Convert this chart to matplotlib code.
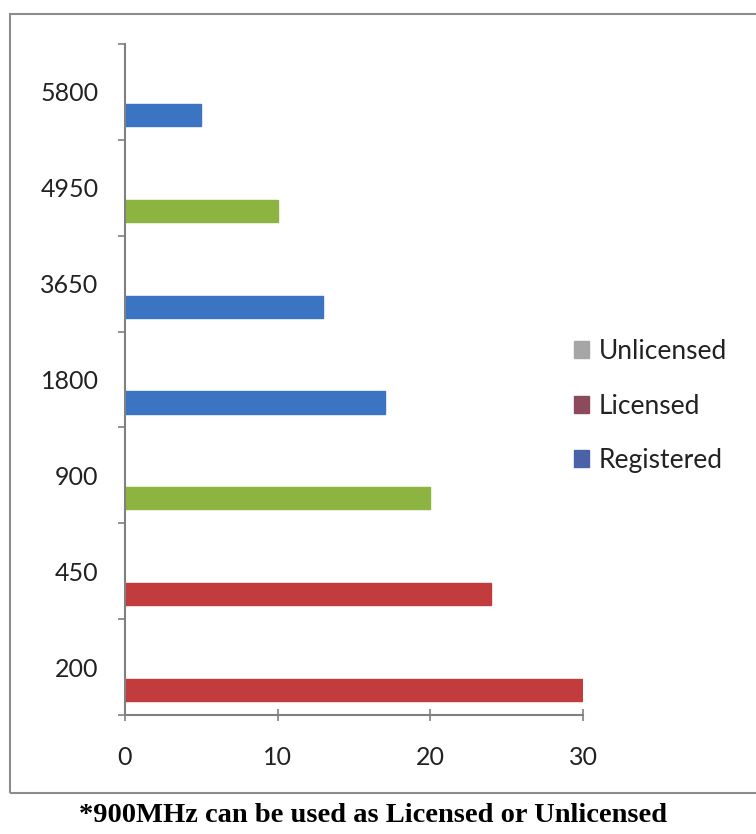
import matplotlib
matplotlib.use("Agg")
import matplotlib.pyplot as plt
from matplotlib.patches import Rectangle, Patch

# frequency bands (MHz), bottom to top
bands = ["200", "450", "900", "1800", "3650", "4950", "5800"]
values = [30, 24, 20, 17, 13, 10, 5]
kinds = ["Licensed", "Licensed", "Unlicensed", "Registered", "Registered", "Unlicensed", "Registered"]
xticks = [0, 10, 20, 30]

bar_colors = {"Licensed": "#C23B3D", "Unlicensed": "#8DB440", "Registered": "#3B74C2"}
legend_names = ["Unlicensed", "Licensed", "Registered"]
legend_colors = ["#A6A6A6", "#8C4A5C", "#4A63A8"]

plt.rcParams['font.family'] = ['Lato', 'DejaVu Sans']

fig = plt.figure(figsize=(7.56, 8.34), dpi=100)
ax = fig.add_axes([125/756, 1-715/834, (583-125)/756, (715-44)/834])

pos = list(range(len(bands)))
for i in pos:
    c = bar_colors[kinds[i]]
    ax.barh(i - 0.24, values[i], height=0.23, color=c, edgecolor=c, linewidth=1)

ax.set_xlim(0, 30)
ax.set_ylim(-0.5, len(bands) - 0.5)
ax.set_xticks(xticks)
ax.set_yticks(pos)
ax.set_yticklabels(bands)
ax.set_yticks([p + 0.5 for p in pos[:-1]] + [-0.5, len(bands) - 0.5], minor=True)
ax.tick_params(axis='y', which='major', length=0, pad=19, labelsize=18, colors='#222222')
ax.tick_params(axis='y', which='minor', length=5, width=1.2, direction='out', color='#808080')
ax.tick_params(axis='x', length=8, width=1.2, direction='inout', color='#808080', pad=18,
               labelsize=18, labelcolor='#222222')
for s in ['top', 'right']:
    ax.spines[s].set_visible(False)
for s in ['left', 'bottom']:
    ax.spines[s].set_color('#808080')
    ax.spines[s].set_linewidth(1.5)

handles = [Patch(facecolor=c, edgecolor=c) for c in legend_colors]
fig.legend(handles, legend_names, loc='upper left', bbox_to_anchor=(574/756, 1-339/834),
           frameon=False, fontsize=19, handlelength=0.55, handleheight=0.6,
           handletextpad=0.4, labelspacing=1.12, borderpad=0, borderaxespad=0,
           labelcolor='#222222')

# outer chart frame
fig.patches.append(Rectangle((10/756, 1-793/834), 760/756, (793-14)/834,
                             transform=fig.transFigure, fill=False,
                             edgecolor='#8C8C8C', linewidth=1.5))

fig.text(373/756, 1-815/834, "*900MHz can be used as Licensed or Unlicensed",
         ha='center', va='center', fontsize=20.5, fontweight='bold',
         family=['Liberation Serif', 'DejaVu Serif'])

fig.savefig("out.png", dpi=100)
